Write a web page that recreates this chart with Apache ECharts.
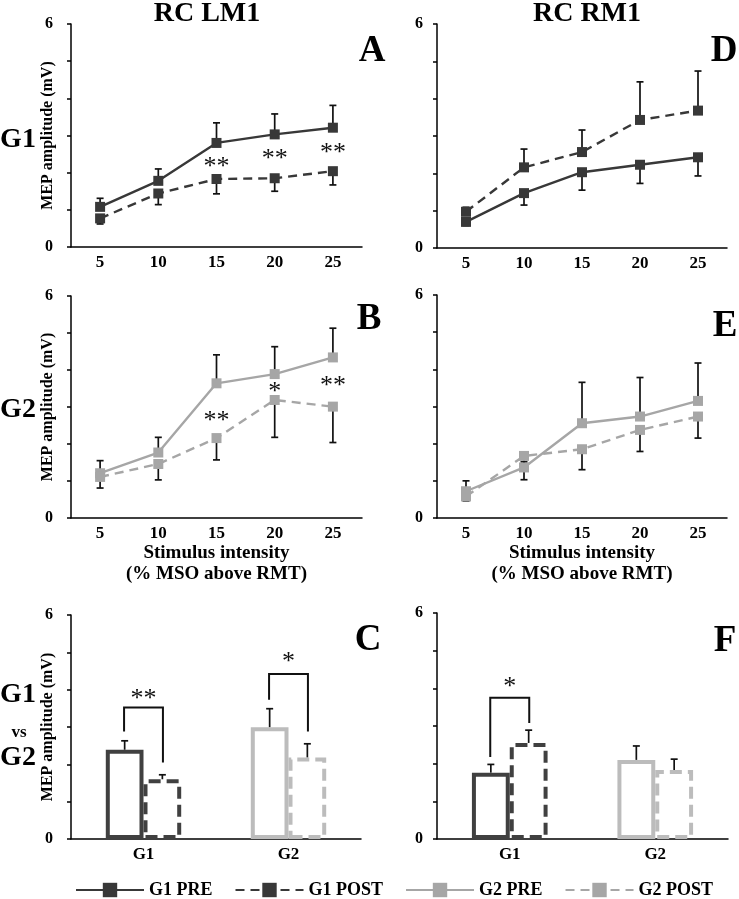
<!DOCTYPE html>
<html>
<head>
<meta charset="utf-8">
<script src="https://cdn.jsdelivr.net/npm/echarts@6/dist/echarts.min.js"></script>
<style>
html,body{margin:0;padding:0;background:#fff;}
#chart{width:739px;height:899px;}
</style>
</head>
<body>
<div id="chart"></div>
<script>
// ---------- DATA ----------
const intensity = ['5', '10', '15', '20', '25'];
const yTicks = [0, 6];

// Panel A: RC LM1, G1
const aG1Pre = [1.08, 1.78, 2.80, 3.03, 3.21];
const aG1PreErr = [0.23, 0.32, 0.54, 0.55, 0.60];
const aG1Post = [0.77, 1.44, 1.83, 1.85, 2.04];
const aG1PostErr = [0.15, 0.30, 0.40, 0.35, 0.37];
const aStars = [[2, 2.31, '**'], [3, 2.53, '**'], [4, 2.69, '**']];

// Panel D: RC RM1, G1
const dG1Pre = [0.70, 1.47, 2.03, 2.23, 2.43];
const dG1PreErr = [0.10, 0.32, 0.48, 0.50, 0.50];
const dG1Post = [0.97, 2.16, 2.57, 3.43, 3.68];
const dG1PostErr = [0.12, 0.49, 0.59, 1.02, 1.06];

// Panel B: RC LM1, G2
const bG2Pre = [1.21, 1.77, 3.64, 3.89, 4.34];
const bG2PreErr = [0.34, 0.41, 0.77, 0.74, 0.79];
const bG2Post = [1.11, 1.46, 2.16, 3.19, 3.01];
const bG2PostErr = [0.30, 0.43, 0.59, 1.01, 0.97];
const bStars = [[2, 2.79, '**'], [3, 3.55, '*'], [4, 3.73, '**']];

// Panel E: RC RM1, G2
const eG2Pre = [0.72, 1.36, 2.55, 2.73, 3.15];
const eG2PreErr = [0.28, 0.15, 1.10, 1.05, 1.02];
const eG2Post = [0.58, 1.67, 1.85, 2.37, 2.73];
const eG2PostErr = [0.12, 0.64, 0.55, 0.58, 0.58];

// Panels C / F: G1 vs G2 bars
const groups = ['G1', 'G2'];
const cPre = [2.39, 2.99];
const cPreErr = [0.24, 0.50];
const cPost = [1.60, 2.18];
const cPostErr = [0.12, 0.37];
// bracket: [group, top, left leg bottom, right leg bottom]
const cBrackets = [[0, 3.52, 2.88, 2.05], [1, 4.42, 3.73, 2.88]];
const cStars = [[0, 3.91, '**'], [1, 4.89, '*']];

const fPre = [1.76, 2.10];
const fPreErr = [0.22, 0.37];
const fPost = [2.55, 1.83];
const fPostErr = [0.34, 0.29];
const fBrackets = [[0, 3.75, 2.18, 3.08]];
const fStars = [[0, 4.19, '*']];

// ---------- STYLE ----------
const FONT = '"Liberation Serif", "Times New Roman", serif';
const DARK = '#383838';
const LIGHT = '#a6a6a6';
const BAR_DARK = '#404040';
const BAR_LIGHT = '#bcbcbc';
const AX = { color: '#000', width: 1.5 };

const grids = [
  { left: 71, top: 24, width: 291, height: 223 },   // A
  { left: 437, top: 24, width: 290, height: 224 },  // D
  { left: 71, top: 296, width: 291, height: 222 },  // B
  { left: 437, top: 295, width: 290, height: 223 }, // E
  { left: 71, top: 615, width: 290, height: 224 },  // C
  { left: 437, top: 613, width: 291, height: 226 }  // F
];

const xAxes = [];
const yAxes = [];
const series = [];

function addAxes(gi, cats, left, showYName, showXName) {
  xAxes.push({
    gridIndex: gi, type: 'category', data: cats, boundaryGap: true,
    axisLine: { lineStyle: AX }, axisTick: { length: 4, lineStyle: AX },
    axisLabel: { color: '#000', fontFamily: FONT, fontWeight: 'bold', fontSize: 17, margin: 7 },
    name: showXName ? 'Stimulus intensity\n(% MSO above RMT)' : '',
    nameLocation: 'middle', nameGap: 24,
    nameTextStyle: { color: '#000', fontFamily: FONT, fontWeight: 'bold', fontSize: 19, lineHeight: 21 }
  });
  yAxes.push({
    gridIndex: gi, type: 'value', min: 0, max: 6, interval: 1,
    splitLine: { show: false },
    axisLine: { show: true, lineStyle: AX },
    axisTick: { show: true, length: 4, lineStyle: AX },
    axisLabel: {
      color: '#000', fontFamily: FONT, fontWeight: 'bold', fontSize: 16, margin: left ? 18 : 14,
      formatter: v => (yTicks.indexOf(v) >= 0 ? String(v) : '')
    },
    name: showYName ? 'MEP amplitude (mV)' : '',
    nameLocation: 'middle', nameGap: 15, nameMoveOverlap: false,
    nameTextStyle: { color: '#000', fontFamily: FONT, fontWeight: 'bold', fontSize: 16 }
  });
}

function lineSeries(gi, name, data, color, dashed) {
  series.push({
    type: 'line', name: name, xAxisIndex: gi, yAxisIndex: gi, data: data,
    symbol: 'rect', symbolSize: 10, z: 3,
    itemStyle: { color: color },
    lineStyle: { color: color, width: 2.4, type: dashed ? [9, 6] : 'solid' }
  });
}

function errSeries(gi, vals, errs, dir, offsetFrac) {
  series.push({
    type: 'custom', xAxisIndex: gi, yAxisIndex: gi, z: 2, silent: true,
    data: vals.map((v, i) => [i, v, errs[i]]),
    encode: { x: 0, y: 1 },
    renderItem: (params, api) => {
      const i = api.value(0), v = api.value(1), e = api.value(2);
      const band = api.size([1, 0])[0];
      const dx = (offsetFrac || 0) * band;
      const p0 = api.coord([i, v]);
      const p1 = api.coord([i, v + dir * e]);
      const x = p0[0] + dx;
      return {
        type: 'group', children: [
          { type: 'line', shape: { x1: x, y1: p0[1], x2: x, y2: p1[1] }, style: { stroke: '#111', lineWidth: 1.7 } },
          { type: 'line', shape: { x1: x - 3.5, y1: p1[1], x2: x + 3.5, y2: p1[1] }, style: { stroke: '#111', lineWidth: 1.7 } }
        ]
      };
    }
  });
}

function starSeries(gi, stars) {
  series.push({
    type: 'custom', xAxisIndex: gi, yAxisIndex: gi, z: 4, silent: true,
    data: stars.map(s => [s[0], s[1]]),
    encode: { x: 0, y: 1 },
    renderItem: (params, api) => {
      const p = api.coord([api.value(0), api.value(1)]);
      return {
        type: 'text', x: p[0], y: p[1] + 6,
        style: { text: stars[params.dataIndex][2], fill: '#111', font: 'normal 26px ' + FONT, textAlign: 'center', textVerticalAlign: 'middle' }
      };
    }
  });
}

function bracketSeries(gi, brackets, offsetFrac) {
  series.push({
    type: 'custom', xAxisIndex: gi, yAxisIndex: gi, z: 4, silent: true,
    data: brackets.map(b => [b[0], b[1], b[2], b[3]]),
    encode: { x: 0, y: 1 },
    renderItem: (params, api) => {
      const i = api.value(0);
      const band = api.size([1, 0])[0];
      const c = api.coord([i, api.value(1)]);
      const lb = api.coord([i, api.value(2)]);
      const rb = api.coord([i, api.value(3)]);
      const xl = c[0] - offsetFrac * band, xr = c[0] + offsetFrac * band;
      return {
        type: 'polyline',
        shape: { points: [[xl, lb[1]], [xl, c[1]], [xr, c[1]], [xr, rb[1]]] },
        style: { stroke: '#111', lineWidth: 2, fill: null }
      };
    }
  });
}

function barSeries(gi, name, vals, dashed) {
  const cols = [BAR_DARK, BAR_LIGHT];
  series.push({
    type: 'bar', name: name, xAxisIndex: gi, yAxisIndex: gi, z: 2,
    barWidth: '26%', barGap: '0%',
    data: vals.map((v, i) => ({ value: v, itemStyle: { borderColor: cols[i] } })),
    itemStyle: { color: '#fff', borderWidth: 4, borderType: dashed ? [12, 6] : 'solid' }
  });
}

// Panel A
addAxes(0, intensity, true, true, false);
errSeries(0, aG1Pre, aG1PreErr, 1);
errSeries(0, aG1Post, aG1PostErr, -1);
lineSeries(0, 'G1 PRE', aG1Pre, DARK, false);
lineSeries(0, 'G1 POST', aG1Post, DARK, true);
starSeries(0, aStars);

// Panel D
addAxes(1, intensity, false, false, false);
errSeries(1, dG1Pre, dG1PreErr, -1);
errSeries(1, dG1Post, dG1PostErr, 1);
lineSeries(1, 'G1 PRE', dG1Pre, DARK, false);
lineSeries(1, 'G1 POST', dG1Post, DARK, true);

// Panel B
addAxes(2, intensity, true, true, true);
errSeries(2, bG2Pre, bG2PreErr, 1);
errSeries(2, bG2Post, bG2PostErr, -1);
lineSeries(2, 'G2 PRE', bG2Pre, LIGHT, false);
lineSeries(2, 'G2 POST', bG2Post, LIGHT, true);
starSeries(2, bStars);

// Panel E
addAxes(3, intensity, false, false, true);
errSeries(3, eG2Pre, eG2PreErr, 1);
errSeries(3, eG2Post, eG2PostErr, -1);
lineSeries(3, 'G2 PRE', eG2Pre, LIGHT, false);
lineSeries(3, 'G2 POST', eG2Post, LIGHT, true);

// Panel C
addAxes(4, groups, true, true, false);
barSeries(4, 'PRE', cPre, false);
barSeries(4, 'POST', cPost, true);
errSeries(4, cPre, cPreErr, 1, -0.13);
errSeries(4, cPost, cPostErr, 1, 0.13);
bracketSeries(4, cBrackets, 0.134);
starSeries(4, cStars);

// Panel F
addAxes(5, groups, false, false, false);
barSeries(5, 'PRE', fPre, false);
barSeries(5, 'POST', fPost, true);
errSeries(5, fPre, fPreErr, 1, -0.13);
errSeries(5, fPost, fPostErr, 1, 0.13);
bracketSeries(5, fBrackets, 0.134);
starSeries(5, fStars);

function label(text, x, y, size) {
  return {
    type: 'text', x: x, y: y, silent: true,
    style: { text: text, fill: '#000', font: 'bold ' + size + 'px ' + FONT, textAlign: 'center', textVerticalAlign: 'middle' }
  };
}

const graphics = [
  label('RC LM1', 207, 14, 28),
  label('RC RM1', 587, 14, 28),
  label('A', 372, 51, 37),
  label('D', 724, 51, 37),
  label('B', 369, 319, 37),
  label('E', 725, 326, 37),
  label('C', 368, 640, 37),
  label('F', 725, 641, 37),
  label('G1', 18, 140, 28),
  label('G2', 18, 410, 28),
  label('G1', 18, 695, 28),
  label('vs', 19, 733, 17),
  label('G2', 18, 758, 28)
];

const option = {
  backgroundColor: '#fff',
  animation: false,
  grid: grids.map(g => Object.assign({ containLabel: false }, g)),
  xAxis: xAxes,
  yAxis: yAxes,
  legend: {
    data: ['G1 PRE', 'G1 POST', 'G2 PRE', 'G2 POST'],
    left: 70, top: 876, itemWidth: 68, itemHeight: 18, itemGap: 22,
    textStyle: { color: '#000', fontFamily: FONT, fontWeight: 'bold', fontSize: 18 },
    selectedMode: false
  },
  series: series,
  graphic: graphics
};

const chart = echarts.init(document.getElementById('chart'), null, { renderer: 'canvas' });
chart.setOption(option);
</script>
</body>
</html>
